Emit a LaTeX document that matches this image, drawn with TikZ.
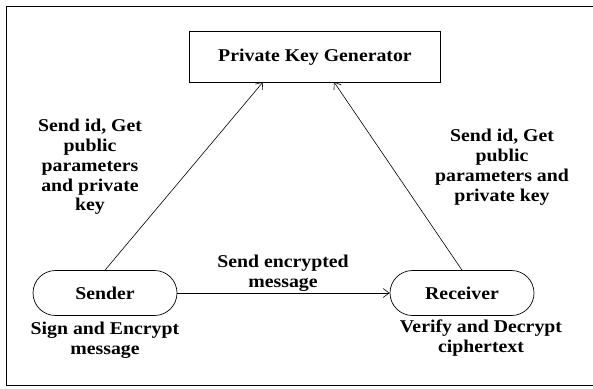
\documentclass[tikz,border=0pt]{standalone}
\usepackage{fontspec}
\setmainfont{Liberation Serif}[FakeStretch=1.1]
\usetikzlibrary{arrows.meta,shapes.misc}
\begin{document}
\begin{tikzpicture}[x=1pt,y=-1pt,
  every node/.style={font=\fontsize{18}{19.8}\selectfont\bfseries},
  box/.style={draw,line width=0.9pt,minimum width=251pt,minimum height=51pt,inner sep=0pt},
  party/.style={draw,rounded rectangle,line width=0.7pt,minimum width=144pt,minimum height=45pt,inner sep=0pt},
  lbl/.style={align=center,inner sep=0pt},
  link/.style={-{Straight Barb[length=6pt,width=9pt]},line width=0.6pt}]
\useasboundingbox (0,0) rectangle (593,388);
% outer frame (open on the right)
\draw[line width=1pt] (600,6) -- (6,6) -- (6,385) -- (600,385);
% nodes
\node[box] (pkg) at (315,57) {Private Key Generator};
\node[party] (snd) at (105,293) {Sender};
\node[party] (rcv) at (462,293) {Receiver};
\coordinate (pkgL) at (263,82);
\coordinate (pkgR) at (334,82);
% connectors
\draw[link] (snd.north) -- (pkgL);
\draw[link] (rcv.north) -- (pkgR);
\draw[link] (snd.east) -- (rcv.west);
% labels
\node[lbl] (l1) at (90,167) {Send id, Get\\public\\parameters\\and private\\key};
\node[lbl] (l2) at (502,167) {Send id, Get\\public\\parameters and\\private key};
\node[lbl] (l3) at (283,273) {Send encrypted\\message};
\node[lbl] (l4) at (105,340) {Sign and Encrypt\\message};
\node[lbl] (l5) at (481,338) {Verify and Decrypt\\ciphertext};
\end{tikzpicture}
\end{document}
